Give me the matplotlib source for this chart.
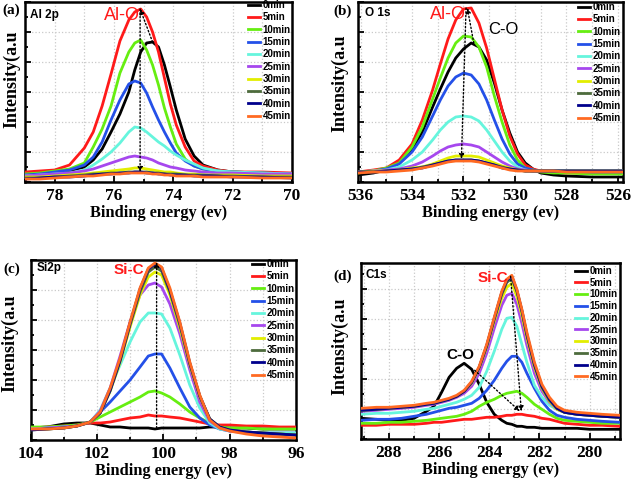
import matplotlib
matplotlib.use("Agg")
import matplotlib.pyplot as plt
from matplotlib.ticker import MultipleLocator
from matplotlib.font_manager import FontProperties

# ---------------- data ----------------
series_labels = ['0min', '5min', '10min', '15min', '20min', '25min',
                 '30min', '35min', '40min', '45min']
series_colors = ['#000000', '#ff1a1a', '#66ee11', '#2450e8', '#66f5dd',
                 '#a647ee', '#e2ee00', '#4d6b3c', '#00008c', '#ff6a22']

# (a) Al 2p
E_a = [79, 78.5, 78, 77.5, 77, 76.7, 76.4, 76.1, 75.8, 75.5, 75.3, 75.1, 74.9,
       74.7, 74.5, 74.3, 74.1, 73.9, 73.6, 73.3, 73.0, 72.5, 72, 71, 70]
a_00 = [6, 7, 9, 11, 15, 22, 33, 50, 68, 90, 112, 130, 139, 140, 135, 117, 95, 72, 43, 26, 17, 12, 10, 9, 7]
a_05 = [10, 11, 12, 17, 34, 50, 76, 108, 141, 162, 170, 173, 165, 150, 130, 104, 78, 57, 35, 21, 16, 12, 10, 10, 9]
a_10 = [8, 9, 11, 13, 19, 35, 53, 76, 109, 130, 139, 142, 132, 117, 97, 74, 55, 38, 23, 16, 13, 11, 10, 9, 8]
a_15 = [7, 8, 10, 12, 17, 25, 40, 62, 82, 98, 101, 99, 89, 75, 62, 50, 39, 29, 21, 16, 13, 11, 10, 9, 8]
a_20 = [6, 7, 8, 9, 12, 17, 23, 30, 39, 50, 55, 54, 50, 45, 40, 36, 31, 27, 22, 18, 14, 11, 10, 9, 8]
a_25 = [6, 7, 8, 9, 11, 13, 16, 19, 22, 25, 26, 25, 24, 22, 19, 17, 15, 14, 12, 11, 10, 9, 9, 8, 8]
a_30 = [5, 5, 6, 7, 8, 9, 10, 11, 12, 13, 14, 14, 13, 12, 11, 10, 10, 9, 8, 8, 7, 7, 7, 6, 6]
a_35 = [4, 4, 5, 6, 7, 8, 8, 9, 9, 10, 10, 10, 10, 9, 9, 8, 8, 8, 7, 7, 7, 6, 6, 5, 5]
a_40 = [3, 4, 5, 5, 6, 7, 8, 8, 9, 9, 10, 10, 9, 9, 8, 8, 7, 7, 7, 6, 6, 6, 5, 5, 4]
a_45 = [3, 3, 4, 5, 6, 6, 7, 8, 8, 9, 9, 9, 9, 8, 8, 7, 7, 6, 6, 6, 5, 5, 5, 4, 4]

# (b) O 1s
E_b = [536.1, 535.5, 535, 534.5, 534, 533.6, 533.2, 532.9, 532.6, 532.3, 532.0,
       531.7, 531.4, 531.1, 530.8, 530.5, 530.2, 529.9, 529.6, 529.3, 529.0,
       528.5, 528, 527, 525.8]
b_00 = [7, 9, 12, 19, 33, 50, 75, 93, 110, 124, 133, 139, 135, 122, 99, 72, 49, 30, 19, 13, 9, 7, 6, 5, 5]
b_05 = [10, 12, 14, 22, 38, 62, 92, 118, 143, 162, 173, 174, 159, 134, 103, 72, 46, 28, 17, 13, 11, 10, 9, 9, 9]
b_10 = [9, 11, 14, 19, 35, 55, 83, 104, 124, 139, 146, 145, 135, 115, 86, 60, 37, 22, 14, 12, 10, 9, 9, 8, 8]
b_15 = [10, 11, 13, 18, 30, 45, 66, 82, 96, 105, 109, 107, 98, 82, 62, 43, 28, 18, 14, 12, 11, 11, 11, 10, 10]
b_20 = [10, 11, 12, 15, 22, 30, 42, 52, 60, 65, 66, 65, 61, 52, 41, 30, 21, 15, 12, 11, 11, 11, 11, 11, 11]
b_25 = [10, 11, 12, 13, 16, 20, 26, 31, 35, 37, 38, 37, 35, 30, 25, 20, 16, 13, 12, 11, 11, 11, 11, 11, 11]
b_30 = [10, 11, 11, 12, 14, 15, 18, 21, 24, 26, 26, 26, 25, 22, 19, 16, 14, 12, 11, 11, 11, 11, 11, 11, 11]
b_35 = [10, 10, 11, 12, 13, 15, 17, 19, 21, 22, 22, 22, 21, 19, 17, 15, 13, 12, 11, 11, 11, 11, 11, 11, 11]
b_40 = [10, 10, 11, 12, 13, 14, 17, 19, 21, 22, 22, 22, 21, 19, 17, 14, 13, 12, 11, 11, 11, 11, 11, 11, 11]
b_45 = [9, 10, 10, 11, 12, 14, 16, 18, 20, 21, 21, 21, 20, 18, 16, 14, 12, 11, 11, 11, 11, 11, 10, 10, 10]

# (c) Si 2p
E_c = [104, 103.5, 103, 102.6, 102.2, 101.9, 101.6, 101.3, 101.0, 100.7, 100.45,
       100.25, 100.05, 99.8, 99.5, 99.2, 98.9, 98.6, 98.3, 98.0, 97.5, 97, 96.5, 96]
c_00 = [12, 13, 16, 17, 17, 15, 13, 13, 12, 12, 12, 11, 12, 12, 12, 12, 12, 13, 13, 12, 12, 11, 11, 11]
c_05 = [12, 13, 14, 15, 17, 17, 18, 20, 22, 23, 25, 24, 24, 23, 22, 20, 18, 16, 15, 15, 14, 14, 13, 13]
c_10 = [13, 13, 14, 15, 18, 23, 28, 33, 38, 43, 48, 49, 47, 43, 36, 28, 22, 17, 13, 12, 12, 11, 11, 11]
c_15 = [11, 12, 13, 14, 18, 28, 38, 49, 60, 73, 84, 86, 86, 72, 52, 33, 22, 15, 11, 9, 8, 7, 7, 7]
c_20 = [11, 12, 13, 14, 18, 30, 52, 75, 98, 118, 127, 127, 126, 112, 85, 55, 32, 17, 11, 9, 8, 7, 7, 7]
c_25 = [11, 12, 13, 14, 18, 29, 52, 84, 118, 145, 155, 157, 153, 136, 106, 70, 38, 19, 12, 9, 7, 6, 5, 5]
c_30 = [11, 11, 12, 14, 18, 27, 49, 78, 113, 145, 163, 168, 165, 145, 112, 75, 43, 21, 13, 10, 8, 7, 6, 5]
c_35 = [10, 11, 12, 14, 18, 27, 49, 79, 115, 148, 168, 173, 169, 148, 115, 76, 44, 21, 13, 10, 8, 7, 6, 5]
c_40 = [10, 11, 12, 14, 18, 27, 50, 80, 117, 151, 171, 176, 172, 150, 117, 77, 44, 21, 13, 10, 8, 7, 6, 5]
c_45 = [11, 11, 12, 14, 18, 28, 52, 82, 118, 152, 172, 177, 173, 152, 118, 78, 45, 20, 12, 9, 6, 4, 3, 2]

# (d) C 1s
E_d = [289.1, 288.5, 288, 287.5, 287, 286.5, 286.2, 285.9, 285.6, 285.3, 285.0,
       284.7, 284.4, 284.1, 283.8, 283.5, 283.3, 283.1, 282.9, 282.7, 282.5,
       282.2, 281.9, 281.6, 281.3, 281.0, 280.5, 280, 279.5, 278.8]
d_00 = [21, 20, 19, 19, 21, 28, 33, 47, 62, 71, 76, 70, 55, 37, 25, 19, 16, 15, 13, 13, 12, 12, 11, 11, 11, 11, 11, 10, 10, 10]
d_05 = [14, 14, 15, 15, 15, 16, 17, 17, 18, 19, 20, 20, 21, 22, 22, 23, 24, 24, 25, 25, 24, 23, 21, 20, 18, 16, 15, 14, 14, 13]
d_10 = [16, 16, 17, 17, 18, 19, 20, 21, 22, 23, 25, 28, 33, 37, 40, 44, 46, 47, 48, 46, 42, 35, 30, 25, 21, 19, 18, 17, 16, 16]
d_15 = [19, 20, 20, 21, 23, 25, 27, 29, 31, 32, 34, 36, 41, 49, 59, 71, 78, 83, 83, 77, 66, 51, 38, 29, 24, 22, 20, 19, 18, 17]
d_20 = [25, 26, 26, 27, 28, 30, 31, 33, 35, 37, 40, 44, 52, 68, 88, 110, 121, 122, 113, 95, 77, 54, 42, 34, 30, 27, 25, 24, 23, 22]
d_25 = [28, 29, 30, 31, 32, 34, 35, 37, 39, 42, 46, 53, 66, 86, 111, 134, 144, 146, 135, 116, 94, 66, 48, 37, 30, 27, 25, 24, 23, 22]
d_30 = [29, 30, 31, 32, 33, 35, 36, 38, 40, 43, 48, 56, 71, 92, 118, 141, 152, 156, 143, 124, 101, 72, 51, 38, 30, 27, 25, 24, 23, 22]
d_35 = [29, 30, 31, 32, 33, 35, 36, 38, 40, 43, 48, 57, 72, 93, 120, 145, 157, 161, 148, 128, 104, 74, 52, 39, 31, 27, 25, 24, 23, 22]
d_40 = [29, 30, 31, 32, 33, 35, 36, 38, 40, 43, 48, 57, 72, 94, 121, 147, 159, 163, 149, 129, 105, 75, 53, 40, 31, 27, 25, 24, 23, 22]
d_45 = [31, 32, 32, 33, 34, 36, 37, 39, 41, 44, 49, 58, 73, 95, 122, 148, 160, 164, 150, 130, 107, 77, 55, 42, 33, 29, 27, 26, 25, 24]

# ---------------- figure ----------------
W, H = 636, 483
fig = plt.figure(figsize=(W / 100, H / 100), dpi=100)

SERIF = 'Liberation Serif'
SANS = 'Liberation Sans'


def box(l, t, r, b):
    return fig.add_axes([l / W, 1 - b / H, (r - l) / W, (b - t) / H])


def ftext(px, py, s, **kw):
    fig.text(px / W, 1 - py / H, s, **kw)


panels = [
    dict(box=(25, 2, 292, 182), E=E_a, ys=[a_00, a_05, a_10, a_15, a_20, a_25, a_30, a_35, a_40, a_45],
         xlim=(79, 70), ylim=(0, 180), ylab=(-0.049, 0.57), leg=(0.996, 1.011), ls=0.24),
    dict(box=(358, 2, 623, 182), E=E_b, ys=[b_00, b_05, b_10, b_15, b_20, b_25, b_30, b_35, b_40, b_45],
         xlim=(536.1, 525.8), ylim=(0, 180), ylab=(-0.068, 0.55), leg=(0.992, 1.0), ls=0.24),
    dict(box=(30.5, 260, 296, 440), E=E_c, ys=[c_00, c_05, c_10, c_15, c_20, c_25, c_30, c_35, c_40, c_45],
         xlim=(104, 96), ylim=(0, 180), ylab=(-0.077, 0.54), leg=(0.996, 1.006), ls=0.24),
    dict(box=(361.3, 263.3, 619.7, 439.3), E=E_d, ys=[d_00, d_05, d_10, d_15, d_20, d_25, d_30, d_35, d_40, d_45],
         xlim=(289.1, 278.8), ylim=(0, 176), ylab=(-0.082, 0.53), leg=(0.993, 0.985), ls=0.18),
]

axes = []
legfont = FontProperties(family=SANS, weight='bold', size=7)
for p in panels:
    ax = box(*p['box'])
    axes.append(ax)
    lines = []
    for y, lab, col in zip(p['ys'], series_labels, series_colors):
        ln, = ax.plot(p['E'], y, color=col, lw=2.0, label=lab, zorder=3,
                      solid_joinstyle='round')
        lines.append(ln)
    ax.set_xlim(*p['xlim'])
    ax.set_ylim(*p['ylim'])
    ax.xaxis.set_major_locator(MultipleLocator(2))
    ax.xaxis.set_minor_locator(MultipleLocator(1))
    ax.yaxis.set_major_locator(MultipleLocator(30))
    ax.yaxis.set_minor_locator(MultipleLocator(15))
    ax.tick_params(which='both', direction='in', top=False, right=False,
                   labelleft=False, width=1.3)
    ax.tick_params(which='major', length=4.5, pad=4)
    ax.tick_params(which='minor', length=2.5)
    ax.xaxis.set_major_formatter(plt.FuncFormatter(lambda v, pos: '%d' % round(v)))
    for t in ax.get_xticklabels():
        t.set_fontfamily(SERIF)
        t.set_fontweight('bold')
        t.set_fontsize(12.5)
    for s in ax.spines.values():
        s.set_linewidth(1.8)
    ax.grid(True, which='major', color='#c9c9c9', linestyle=':', linewidth=0.9)
    ax.grid(True, which='minor', axis='x', color='#c9c9c9', linestyle=':', linewidth=0.9)
    ax.set_axisbelow(True)
    ax.set_xlabel('Binding energy (ev)', fontfamily=SERIF, fontweight='bold',
                  fontsize=11.8, labelpad=1)
    ax.set_ylabel('Intensity(a.u', fontfamily=SERIF, fontweight='bold', fontsize=13)
    ax.yaxis.set_label_coords(*p['ylab'])
    ax.yaxis.label.set_verticalalignment('center')
    ax.legend(handles=lines, loc='upper right', bbox_to_anchor=p['leg'],
              frameon=False, prop=legfont, handlelength=1.25, handletextpad=0.3,
              labelspacing=p['ls'], borderpad=0, borderaxespad=0)

ax_a, ax_b, ax_c, ax_d = axes

# panel letters
for (px, py, s) in [(2, 10, '(a)'), (333, 11, '(b)'), (3, 269, '(c)'), (333, 276, '(d)')]:
    ftext(px, py, s, fontfamily=SERIF, fontweight='bold', fontsize=11, ha='left', va='center')

# element labels
for (px, py, s) in [(30, 15, 'Al 2p'), (365, 12.5, 'O 1s'), (37, 268, 'Si2p'), (366, 275, 'C1s')]:
    ftext(px, py, s, fontfamily=SANS, fontweight='bold', fontsize=8.5, ha='left', va='center')

# peak labels
ftext(122, 15, 'Al-O', color='#ff1a1a', fontfamily=SANS, fontsize=13, ha='center', va='center', zorder=1)
ftext(448, 14.5, 'Al-O', color='#ff1a1a', fontfamily=SANS, fontsize=13, ha='center', va='center', zorder=1)
ftext(503, 30, 'C-O', color='black', fontfamily=SANS, fontsize=12, ha='center', va='center')
ftext(129, 270, 'Si-C', color='#ff1a1a', fontfamily=SANS, fontweight='bold', fontsize=11, ha='center', va='center')
ftext(493, 278, 'Si-C', color='#ff1a1a', fontfamily=SANS, fontweight='bold', fontsize=11, ha='center', va='center')
ftext(460.5, 355, 'C-O', color='black', fontfamily=SANS, fontweight='bold', fontsize=11, ha='center', va='center')

# dotted arrows
arr = dict(arrowstyle='-|>', linestyle=':', color='black', lw=1.0, mutation_scale=7,
           shrinkA=0, shrinkB=0)
ax_a.annotate('', xy=(75.12, 173), xytext=(74.7, 140), arrowprops=arr, zorder=5)
ax_a.annotate('', xy=(75.12, 10), xytext=(75.12, 173), arrowprops=arr, zorder=5)
ax_b.annotate('', xy=(531.85, 174), xytext=(531.6, 139), arrowprops=arr, zorder=5)
ax_b.annotate('', xy=(532.08, 23), xytext=(531.9, 174), arrowprops=arr, zorder=5)
ax_c.annotate('', xy=(100.2, 178), xytext=(100.2, 12), arrowprops=arr, zorder=5)
ax_d.annotate('', xy=(282.72, 28), xytext=(283.15, 163), arrowprops=arr, zorder=5)
ax_d.annotate('', xy=(282.78, 28), xytext=(284.58, 69), arrowprops=arr, zorder=5)

fig.savefig('out.png', dpi=100)
